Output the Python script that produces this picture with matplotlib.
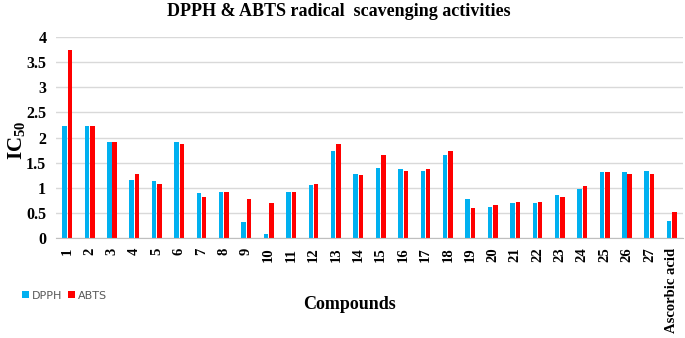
import numpy as np
import matplotlib
matplotlib.use('Agg')
from matplotlib import pyplot as plt

# data
compounds = [str(i) for i in range(1, 28)] + ['Ascorbic acid']
dpph = [2.23, 2.23, 1.91, 1.15, 1.13, 1.91, 0.89, 0.91, 0.31, 0.08,
        0.91, 1.05, 1.74, 1.28, 1.40, 1.37, 1.33, 1.65, 0.77, 0.61,
        0.69, 0.69, 0.85, 0.98, 1.31, 1.31, 1.33, 0.33]
abts = [3.75, 2.23, 1.91, 1.27, 1.08, 1.88, 0.82, 0.91, 0.77, 0.69,
        0.91, 1.08, 1.88, 1.26, 1.65, 1.33, 1.37, 1.74, 0.59, 0.66,
        0.71, 0.71, 0.82, 1.03, 1.31, 1.28, 1.28, 0.52]

BLUE = '#00B0F0'
RED = '#FF0000'
SERIF = 'Liberation Serif'

plt.rcParams['mathtext.fontset'] = 'custom'
plt.rcParams['mathtext.rm'] = 'Liberation Serif:bold'
plt.rcParams['mathtext.bf'] = 'Liberation Serif:bold'

fig = plt.figure(figsize=(6.85, 3.38), dpi=100)
ax = fig.add_axes([56 / 685, 1 - 238 / 338, (683 - 56) / 685, (238 - 37) / 338])

x = np.arange(len(compounds))
w = 0.2
ax.bar(x - 0.12, dpph, w, color=BLUE, label='DPPH', zorder=3)
ax.bar(x + 0.12, abts, w, color=RED, label='ABTS', zorder=3)

ax.set_xlim(-0.5, len(compounds) - 0.5)
ax.set_ylim(0, 4)
ax.set_yticks(np.arange(0, 4.01, 0.5))
ax.set_yticklabels(['0', '0.5', '1', '1.5', '2', '2.5', '3', '3.5', '4'],
                   fontfamily=SERIF, fontweight='bold', fontsize=11.5)
ax.set_xticks(x)
ax.set_xticklabels(compounds, rotation=90, fontfamily=SERIF,
                   fontweight='bold', fontsize=10.5)
ax.tick_params(axis='y', length=0, pad=7)
ax.tick_params(axis='x', length=0, pad=7)
ax.grid(axis='y', color='#D9D9D9', lw=1, zorder=0)
for s in ['left', 'right', 'top']:
    ax.spines[s].set_visible(False)
ax.spines['bottom'].set_color('#BFBFBF')
ax.spines['bottom'].set_zorder(4)

fig.text(0.495, 0.965, 'DPPH & ABTS radical  scavenging activities',
         ha='center', va='center', fontfamily=SERIF, fontweight='bold',
         fontsize=13)
fig.text(0.025, 0.585, r'IC$_{50}$', rotation=90, ha='center', va='center',
         fontfamily=SERIF, fontweight='bold', fontsize=15)
fig.text(0.51, 0.1, 'Compounds', ha='center', va='center',
         fontfamily=SERIF, fontweight='bold', fontsize=13)

leg = fig.legend(loc='center left', bbox_to_anchor=(0.018, 0.125), ncol=2,
                 frameon=False, fontsize=8, handlelength=0.6,
                 handleheight=0.6, handletextpad=0.3, columnspacing=0.5)
for t in leg.get_texts():
    t.set_color('#595959')

fig.savefig('out.png', dpi=100)
